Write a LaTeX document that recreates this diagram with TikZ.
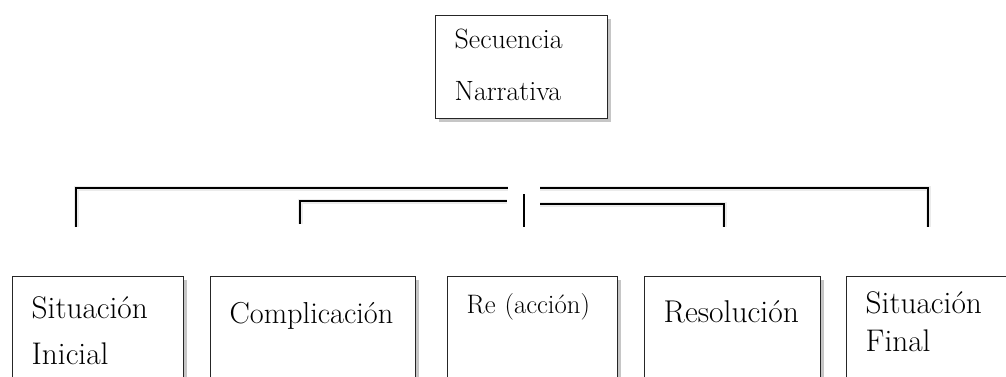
\documentclass[tikz,border=0pt]{standalone}
\usepackage{fontspec}
\usetikzlibrary{shadows}
\tikzset{
  caja/.style={draw=black!85, line width=1.4pt, fill=white, align=left, anchor=north west,
    inner ysep=0pt, inner xsep=19pt,
    drop shadow={opacity=.45, shadow xshift=3pt, shadow yshift=-3pt}},
  llave/.style={line width=2.6pt, black},
  sombra/.style={line width=5pt, black, opacity=.08, xshift=2pt, yshift=-5pt}
}
\begin{document}
\begin{tikzpicture}[x=1pt,y=-1pt]
\useasboundingbox (0,0) rectangle (1006,376);
\clip (0,0) rectangle (1006,376);
\node[caja, text width=134pt, text height=33pt, text depth=70pt, font=\fontsize{27.9}{52}\selectfont] (sec) at (435,15) {Secuencia\\Narrativa};
\node[caja, text width=133pt, text height=42pt, text depth=110pt, font=\fontsize{31.3}{46}\selectfont] (si) at (12,276) {Situación\\Inicial};
\node[caja, text width=167pt, text height=47pt, text depth=110pt, font=\fontsize{30.3}{46}\selectfont] (co) at (210,276) {Complicación};
\node[caja, text width=132pt, text height=37pt, text depth=110pt, font=\fontsize{26.7}{46}\selectfont] (re) at (447,276) {Re (acción)};
\node[caja, text width=138pt, text height=46pt, text depth=110pt, font=\fontsize{31.5}{46}\selectfont] (rs) at (644,276) {Resolución};
\node[caja, text width=180pt, text height=37pt, text depth=110pt, font=\fontsize{31.3}{38}\selectfont] (sf) at (846,276) {Situación\\Final};
\coordinate (a0) at (76,227);
\coordinate (a1) at (508,188);
\coordinate (b0) at (928,227);
\coordinate (b1) at (540,188);
\coordinate (c0) at (300,224);
\coordinate (c1) at (507,201);
\coordinate (d0) at (724,227);
\coordinate (d1) at (540,204);
\coordinate (e0) at (524,194);
\coordinate (e1) at (524,227);
\draw[sombra](a0) |- (a1);
\draw[sombra](b1) -| (b0);
\draw[sombra](c0) |- (c1);
\draw[sombra](d1) -| (d0);
\draw[llave](a0) |- (a1);
\draw[llave](b1) -| (b0);
\draw[llave, line width=2.2pt](c0) |- (c1);
\draw[llave, line width=2.2pt](d1) -| (d0);
\draw[line width=1.3pt](e0) -- (e1);
\end{tikzpicture}
\end{document}
